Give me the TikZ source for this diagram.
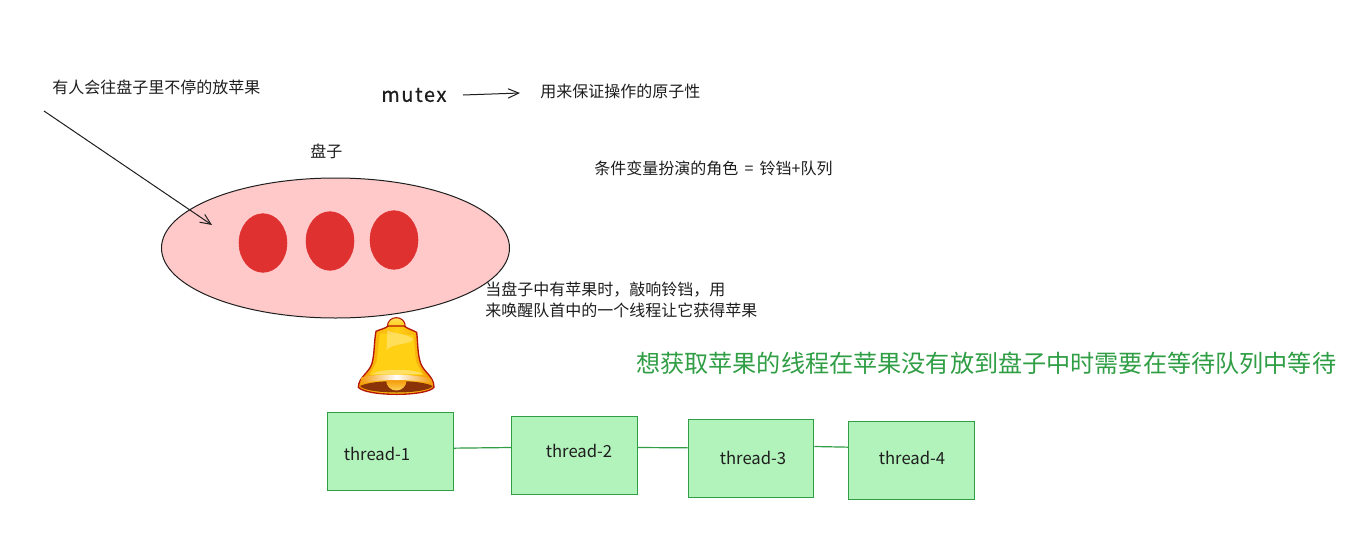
\documentclass[tikz,border=0pt]{standalone}
\usepackage{fontspec}
\setmainfont{Noto Sans CJK SC}
\usepackage{color}
\usetikzlibrary{arrows.meta,positioning,shapes.geometric}
\definecolor{inkcolor}{HTML}{1E1E1E}
\definecolor{platecolor}{HTML}{FFC9C9}
\definecolor{applecolor}{HTML}{E03131}
\definecolor{threadcolor}{HTML}{B2F2BB}
\definecolor{greencolor}{HTML}{2F9E44}
\definecolor{bellline}{HTML}{B5160A}
\definecolor{bellgold}{HTML}{FFD014}
\definecolor{bellorange}{HTML}{F49A06}
\definecolor{bellbrown}{HTML}{8A3208}
\tikzset{
    >={Straight Barb[length=8pt,width=7pt]},
    note/.style={text=inkcolor,font=\fontsize{12}{16}\selectfont,inner sep=0pt,anchor=west,align=left},
    apple/.style={ellipse,draw=applecolor,fill=applecolor,minimum width=36pt,minimum height=44pt,inner sep=0pt},
    threadbox/.style={draw=greencolor,fill=threadcolor,line width=0.9pt,minimum width=94pt,minimum height=58pt,inner sep=0pt},
    threadtext/.style={text=inkcolor,font=\fontsize{12.5}{14}\selectfont,inner sep=0pt},
    threadline/.style={greencolor,line width=0.9pt}
}
\begin{document}
\begin{tikzpicture}[x=0.75pt,y=-0.75pt]

        \useasboundingbox[fill=white] (0,0) rectangle (1360,532);

        \node[note] (n_put) at (52,87) {有人会往盘子里不停的放苹果};
        \node[note] (n_plate) at (310,151) {盘子};
        \node[note] (n_atomic) at (540,91) {用来保证操作的原子性};
        \node[note] (n_role) at (594,168) {条件变量扮演的角色\hspace{2pt} = \hspace{2pt}铃铛+队列};
        \node[note] (n_ring) at (485,300) {当盘子中有苹果时，敲响铃铛，用\\来唤醒队首中的一个线程让它获得苹果};
        \node[note,text=greencolor,font=\fontsize{18.1}{22}\selectfont] (n_wait) at (636,363) {想获取苹果的线程在苹果没有放到盘子中时需要在等待队列中等待};
        \node[note,font=\fontsize{15}{18}\selectfont\addfontfeature{LetterSpace=8,FakeBold=0.6}] (mutex) at (381,95) {mutex};

        \node[ellipse,draw=inkcolor,fill=platecolor,line width=0.75pt,minimum width=261pt,minimum height=105pt,inner sep=0pt] (plate) at (335.5,248) {};
        \node[apple] (apple_1) at (263,243) {};
        \node[apple] (apple_2) at (330,241) {};
        \node[apple] (apple_3) at (394,240) {};

        \coordinate (put_start) at (44,111);
        \coordinate (put_end) at (212,225);
        \coordinate (mutex_start) at (463,95);
        \coordinate (mutex_end) at (520,93);

        \path[->,inkcolor,line width=0.75pt]
        (put_start) edge (put_end)
        (mutex_start) edge (mutex_end);

        \node[threadbox] (t_1) at (390.5,451.5) {};
        \node[threadbox] (t_2) at (574.5,455.5) {};
        \node[threadbox] (t_3) at (751,458.5) {};
        \node[threadbox] (t_4) at (911.5,460.5) {};

        \node[threadtext] (l_1) at (377,454) {thread-1};
        \node[threadtext] (l_2) at (579,451) {thread-2};
        \node[threadtext] (l_3) at (753,458) {thread-3};
        \node[threadtext] (l_4) at (912,458) {thread-4};

        \path[threadline]
        ([yshift=2.5pt]t_1.east) edge ([yshift=6pt]t_2.west)
        ([yshift=6pt]t_2.east) edge ([yshift=8pt]t_3.west)
        ([yshift=9pt]t_3.east) edge ([yshift=10pt]t_4.west);

        \begin{scope}[shift={(330,300)},x=0.25pt,y=-0.25pt]
            \draw[bellline,line width=0.8pt,top color=bellgold!60!white,bottom color=bellgold]
            (172,80) .. controls (172,44) and (226,44) .. (226,80) -- cycle;
            \draw[bellline,line width=1pt,left color=bellorange,right color=bellorange,middle color=bellgold]
            (138,94) .. controls (150,88) and (165,86) .. (175,78)
            -- (222,78) .. controls (232,86) and (248,90) .. (260,97)
            .. controls (264,130) and (262,160) .. (272,190)
            .. controls (282,218) and (312,228) .. (312,262)
            .. controls (290,290) and (110,290) .. (85,262)
            .. controls (85,232) and (118,218) .. (126,190)
            .. controls (134,160) and (132,125) .. (138,94) -- cycle;
            \fill[bellgold]
            (150,100) -- (250,105) -- (258,185) -- (280,225) -- (118,225) -- (140,185) -- cycle;
            \fill[white,opacity=0.3]
            (172,90) .. controls (180,100) and (235,100) .. (250,118)
            .. controls (240,135) and (190,128) .. (170,150) -- cycle;
            \fill[white,opacity=0.35]
            (128,222) .. controls (150,205) and (250,205) .. (278,222) -- cycle;
            \fill[bellbrown]
            (90,258) .. controls (130,238) and (270,238) .. (308,258)
            .. controls (290,284) and (110,284) .. (90,258) -- cycle;
            \shade[top color=bellorange,bottom color=bellgold!60!white]
            (168,240) .. controls (170,282) and (228,282) .. (230,240) -- cycle;
            \shade[left color=bellorange,right color=bellorange,middle color=white]
            (94,232) .. controls (140,220) and (260,220) .. (304,238)
            -- (308,252) .. controls (260,236) and (140,236) .. (90,252) -- cycle;
        \end{scope}

    \end{tikzpicture}
\end{document}
